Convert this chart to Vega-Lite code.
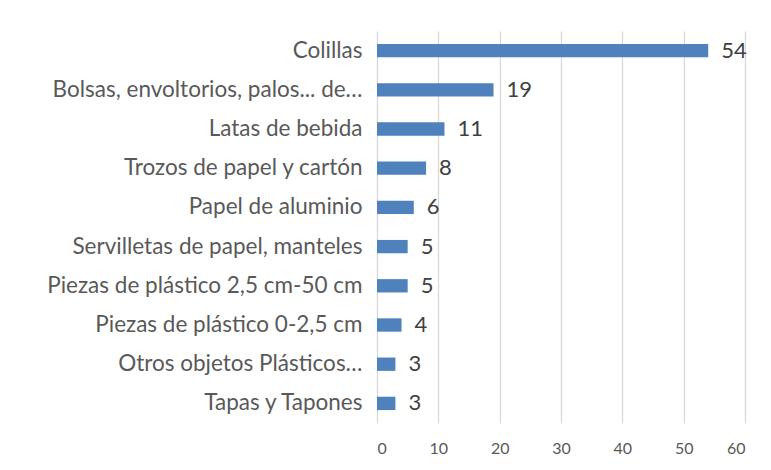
{
  "$schema": "https://vega.github.io/schema/vega-lite/v6.json",
  "width": 368,
  "height": 392,
  "autosize": {"type": "none"},
  "padding": {"left": 377, "top": 31, "right": 26, "bottom": 47},
  "background": "white",
  "data": {"values": [
    {"categoria": "Colillas", "valor": 54},
    {"categoria": "Bolsas, envoltorios, palos... de…", "valor": 19},
    {"categoria": "Latas de bebida", "valor": 11},
    {"categoria": "Trozos de papel y cartón", "valor": 8},
    {"categoria": "Papel de aluminio", "valor": 6},
    {"categoria": "Servilletas de papel, manteles", "valor": 5},
    {"categoria": "Piezas de plástico 2,5 cm-50 cm", "valor": 5},
    {"categoria": "Piezas de plástico 0-2,5 cm", "valor": 4},
    {"categoria": "Otros objetos Plásticos…", "valor": 3},
    {"categoria": "Tapas y Tapones", "valor": 3}
  ]},
  "config": {
    "view": {"stroke": null},
    "font": "Lato"
  },
  "encoding": {
    "y": {
      "field": "categoria", "type": "nominal", "sort": null,
      "scale": {"paddingInner": 0.66, "paddingOuter": 0.33},
      "axis": {"title": null, "ticks": false, "domain": false, "labelFontSize": 22.5, "labelColor": "#595959", "labelPadding": 15, "labelLimit": 400, "labelFont": "Lato"}
    },
    "x": {
      "field": "valor", "type": "quantitative",
      "scale": {"domain": [0, 60]},
      "axis": {"title": null, "values": [0,10,20,30,40,50,60], "ticks": false, "domain": false, "grid": true, "gridColor": "#d9d9d9", "gridWidth": 1.3, "labelFontSize": 16, "labelColor": "#595959", "labelPadding": 17, "labelFont": "Lato"}
    }
  },
  "layer": [
    {"mark": {"type": "bar", "color": "#4f81bd"}},
    {"mark": {"type": "text", "align": "left", "dx": 13, "fontSize": 22, "color": "#404040", "font": "Lato"},
     "encoding": {"text": {"field": "valor", "type": "quantitative"}}}
  ]
}
